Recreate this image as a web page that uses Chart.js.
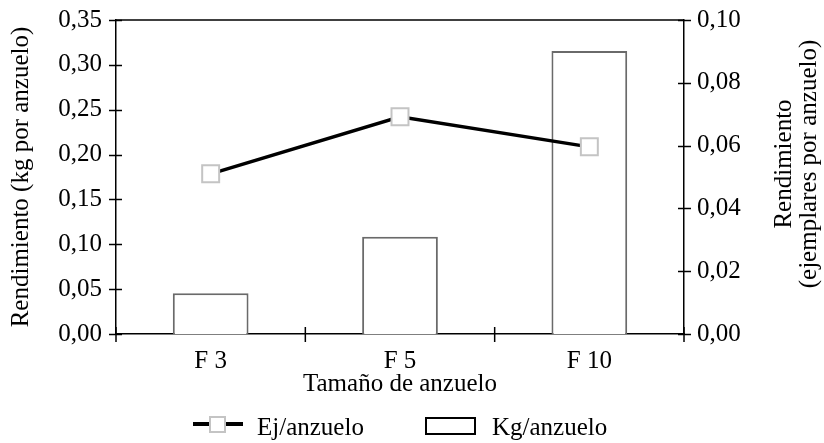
<!DOCTYPE html>
<html>
<head>
<meta charset="utf-8">
<script src="https://cdn.jsdelivr.net/npm/chart.js@4.4.1/dist/chart.umd.min.js"></script>
<style>
  html, body { margin: 0; padding: 0; background: #fff; }
  #wrap { width: 824px; height: 443px; }
</style>
</head>
<body>
<div id="wrap"><canvas id="chart" width="824" height="443"></canvas></div>
<script>
// datos
const categories = ['F 3', 'F 5', 'F 10'];
const kgPorAnzuelo = [0.0455, 0.1085, 0.3155];
const ejPorAnzuelo = [0.0510, 0.0692, 0.0596];
const leftRange = [0, 0.35, 0.05];
const rightRange = [0, 0.10, 0.02];

const FONT = "'Liberation Serif', 'Times New Roman', serif";
const TICK_SIZE = 25;
const TITLE_SIZE = 25;

function fmt(v) {
    return Number(v).toFixed(2).replace('.', ',');
}

// quitar el relleno que Chart.js reserva para las etiquetas extremas
function noPad(s) {
    s.paddingTop = 0;
    s.paddingBottom = 0;
    s.paddingLeft = 0;
    s.paddingRight = 0;
}

// ejes en cruz, marco superior, títulos y leyenda
const extras = {
    id: 'extras',
    afterDraw(chart) {
        const ctx = chart.ctx;
        const area = chart.chartArea;
        const yL = chart.scales.y;
        const yR = chart.scales.y1;
        ctx.save();
        ctx.strokeStyle = '#000';
        ctx.lineWidth = 1.5;

        // línea superior
        ctx.beginPath();
        ctx.moveTo(area.left, area.top);
        ctx.lineTo(area.right, area.top);
        ctx.stroke();

        // marcas izquierda / derecha
        yL.ticks.forEach(t => {
            const y = Math.round(yL.getPixelForValue(t.value)) + 0.5;
            ctx.beginPath();
            ctx.moveTo(area.left - 7, y);
            ctx.lineTo(area.left + 6, y);
            ctx.stroke();
        });
        yR.ticks.forEach(t => {
            const y = Math.round(yR.getPixelForValue(t.value)) + 0.5;
            ctx.beginPath();
            ctx.moveTo(area.right - 6, y);
            ctx.lineTo(area.right + 7, y);
            ctx.stroke();
        });

        // marcas de categoría
        const n = categories.length;
        const w = (area.right - area.left) / n;
        for (let i = 0; i <= n; i++) {
            const x = area.left + i * w;
            ctx.beginPath();
            ctx.moveTo(x, area.bottom - 7);
            ctx.lineTo(x, area.bottom + 8);
            ctx.stroke();
        }

        ctx.fillStyle = '#000';
        ctx.font = TITLE_SIZE + 'px ' + FONT;
        ctx.textAlign = 'center';
        ctx.textBaseline = 'alphabetic';

        // título eje izquierdo
        ctx.save();
        ctx.translate(28, (area.top + area.bottom) / 2);
        ctx.rotate(-Math.PI / 2);
        ctx.fillText('Rendimiento (kg por anzuelo)', 0, 0);
        ctx.restore();

        // título eje derecho (dos líneas)
        const cy = (area.top + area.bottom) / 2 - 13;
        ['Rendimiento', '(ejemplares por anzuelo)'].forEach((s, i) => {
            ctx.save();
            ctx.translate(area.right + 107 + i * 25, cy);
            ctx.rotate(-Math.PI / 2);
            ctx.fillText(s, 0, 0);
            ctx.restore();
        });

        // título eje x
        ctx.fillText('Tamaño de anzuelo', (area.left + area.right) / 2, area.bottom + 57);

        // leyenda
        ctx.textAlign = 'left';
        const ly = 424;
        let x = 193;
        ctx.lineWidth = 4;
        ctx.beginPath();
        ctx.moveTo(x, ly);
        ctx.lineTo(x + 50, ly);
        ctx.stroke();
        ctx.fillStyle = '#fff';
        ctx.fillRect(x + 17, ly - 7, 15, 15);
        ctx.strokeStyle = '#c4c4c4';
        ctx.lineWidth = 2;
        ctx.strokeRect(x + 17, ly - 7, 15, 15);
        ctx.fillStyle = '#000';
        ctx.fillText('Ej/anzuelo', x + 64, ly + 11);
        x = 426;
        ctx.strokeStyle = '#000';
        ctx.lineWidth = 2;
        ctx.strokeRect(x, ly - 6, 49, 16);
        ctx.fillText('Kg/anzuelo', x + 66, ly + 11);
        ctx.restore();
    }
};

const ctx = document.getElementById('chart').getContext('2d');
new Chart(ctx, {
    data: {
        labels: categories,
        datasets: [{
            type: 'line',
            label: 'Ej/anzuelo',
            data: ejPorAnzuelo,
            yAxisID: 'y1',
            borderColor: '#000',
            borderWidth: 3.5,
            pointStyle: 'rect',
            pointRadius: 12,
            pointBackgroundColor: '#fff',
            pointBorderColor: '#c4c4c4',
            pointBorderWidth: 2,
            tension: 0,
            order: 0
        }, {
            type: 'bar',
            label: 'Kg/anzuelo',
            data: kgPorAnzuelo,
            yAxisID: 'y',
            backgroundColor: '#fff',
            borderColor: '#6a6a6a',
            borderWidth: 2,
            categoryPercentage: 1,
            barPercentage: 0.4,
            order: 1
        }]
    },
    options: {
        responsive: false,
        animation: false,
        layout: { padding: { left: 0, right: 0, top: 20, bottom: 0 } },
        plugins: {
            legend: { display: false },
            tooltip: { enabled: false }
        },
        scales: {
            x: {
                offset: true,
                grid: { display: false, drawTicks: false },
                border: { display: true, color: '#000', width: 1.5 },
                ticks: { color: '#000', font: { family: FONT, size: TICK_SIZE }, padding: 12 },
                afterFit: s => { s.height = 109; noPad(s); }
            },
            y: {
                position: 'left',
                min: leftRange[0],
                max: leftRange[1],
                grid: { display: false, drawTicks: false },
                border: { display: true, color: '#000', width: 1.5 },
                ticks: {
                    stepSize: leftRange[2],
                    color: '#000',
                    font: { family: FONT, size: TICK_SIZE },
                    padding: 14,
                    callback: v => fmt(v)
                },
                afterFit: s => { s.width = 116; noPad(s); }
            },
            y1: {
                position: 'right',
                min: rightRange[0],
                max: rightRange[1],
                grid: { display: false, drawTicks: false },
                border: { display: true, color: '#000', width: 1.5 },
                ticks: {
                    stepSize: rightRange[2],
                    color: '#000',
                    font: { family: FONT, size: TICK_SIZE },
                    padding: 13,
                    callback: v => fmt(v)
                },
                afterFit: s => { s.width = 140; noPad(s); }
            }
        }
    },
    plugins: [extras]
});
</script>
</body>
</html>
